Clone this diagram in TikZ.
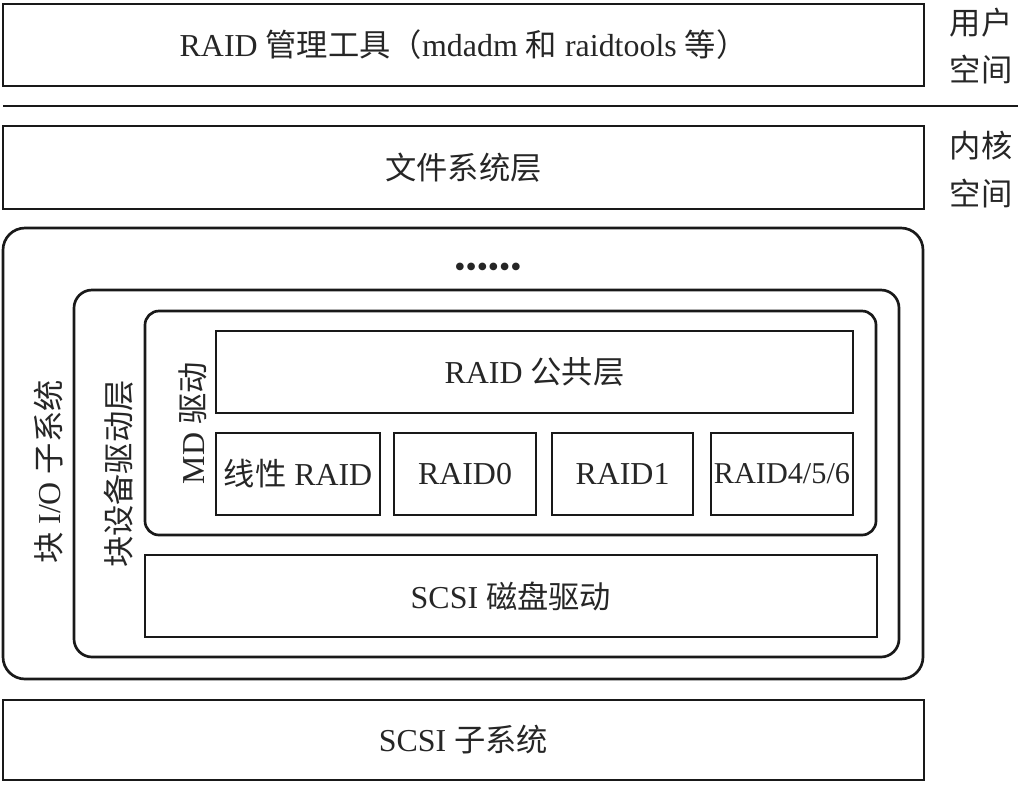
\documentclass[tikz,border=0pt]{standalone}
\usepackage{fontspec}
\usepackage{amsmath}
\usepackage{amssymb}
\setmainfont{Liberation Serif}
\newfontfamily\zhfont{Noto Sans CJK SC}[Scale=0.98]
\newcommand{\zhtext}[1]{{\zhfont #1}}

\begin{document}
\begin{tikzpicture}[x=0.025cm,y=-0.025cm,line width=1.9pt,
                    every node/.style={font=\fontsize{22.7}{27}\selectfont,text=black!85}]
                    \useasboundingbox (0,0) rectangle (1024,784);
                    \begin{scope}[every node/.style={draw=black!90,rectangle,inner sep=0pt,font=\fontsize{22.7}{27}\selectfont,text=black!85}]
                        \node[minimum width=921*0.025cm,minimum height=82*0.025cm] (tools) at (463.5,45) {RAID \zhtext{管理工具（}mdadm \zhtext{和} raidtools \zhtext{等）}};
                        \node[minimum width=921*0.025cm,minimum height=83*0.025cm] (fs) at (463.5,167.5) {\zhtext{文件系统层}};
                        \node[rounded corners=22*0.025cm,minimum width=920*0.025cm,minimum height=451*0.025cm] (blockio) at (463,453.5) {};
                        \node[rounded corners=18*0.025cm,minimum width=825*0.025cm,minimum height=367*0.025cm] (blockdev) at (486.5,473.5) {};
                        \node[rounded corners=14*0.025cm,minimum width=731*0.025cm,minimum height=224*0.025cm] (md) at (510.5,423) {};
                        \node[minimum width=637*0.025cm,minimum height=82*0.025cm] (common) at (534.5,372) {RAID \zhtext{公共层}};
                        \node[minimum width=164*0.025cm,minimum height=82*0.025cm] (linear) at (298,474) {\zhtext{线性} RAID};
                        \node[minimum width=142*0.025cm,minimum height=82*0.025cm] (raid0) at (465,474) {RAID0};
                        \node[minimum width=141*0.025cm,minimum height=82*0.025cm] (raid1) at (622.5,474) {RAID1};
                        \node[minimum width=142*0.025cm,minimum height=82*0.025cm] (raid456) at (782,474) {\fontsize{21.5}{27}\selectfont RAID4/5/6};
                        \node[minimum width=732*0.025cm,minimum height=82*0.025cm] (scsidisk) at (511,596) {SCSI \zhtext{磁盘驱动}};
                        \node[minimum width=921*0.025cm,minimum height=80*0.025cm] (scsi) at (463.5,740) {SCSI \zhtext{子系统}};
                    \end{scope}
                    % labels on the layers
                    \node[rotate=90] (blockiolabel) at (49,472) {\zhtext{块} I/O \zhtext{子系统}};
                    \node[rotate=90] (blockdevlabel) at (119,474) {\zhtext{块设备驱动层}};
                    \node[rotate=90] (mdlabel) at (193,423) {MD \zhtext{驱动}};
                    \node (dots) at (488,270) {\textbullet\textbullet\textbullet\textbullet\textbullet\textbullet};
                    \node[align=center,font=\zhfont\fontsize{22.7}{34}\selectfont] (user) at (981,46) {用户\\空间};
                    \node[align=center,font=\zhfont\fontsize{22.7}{34}\selectfont] (kernel) at (981,169.5) {内核\\空间};
                    % user / kernel boundary
                    \coordinate (sepL) at (3,106);
                    \coordinate (sepR) at (1018,106);
                    \draw[black!90] (sepL) -- (sepR);
                \end{tikzpicture}
\end{document}
